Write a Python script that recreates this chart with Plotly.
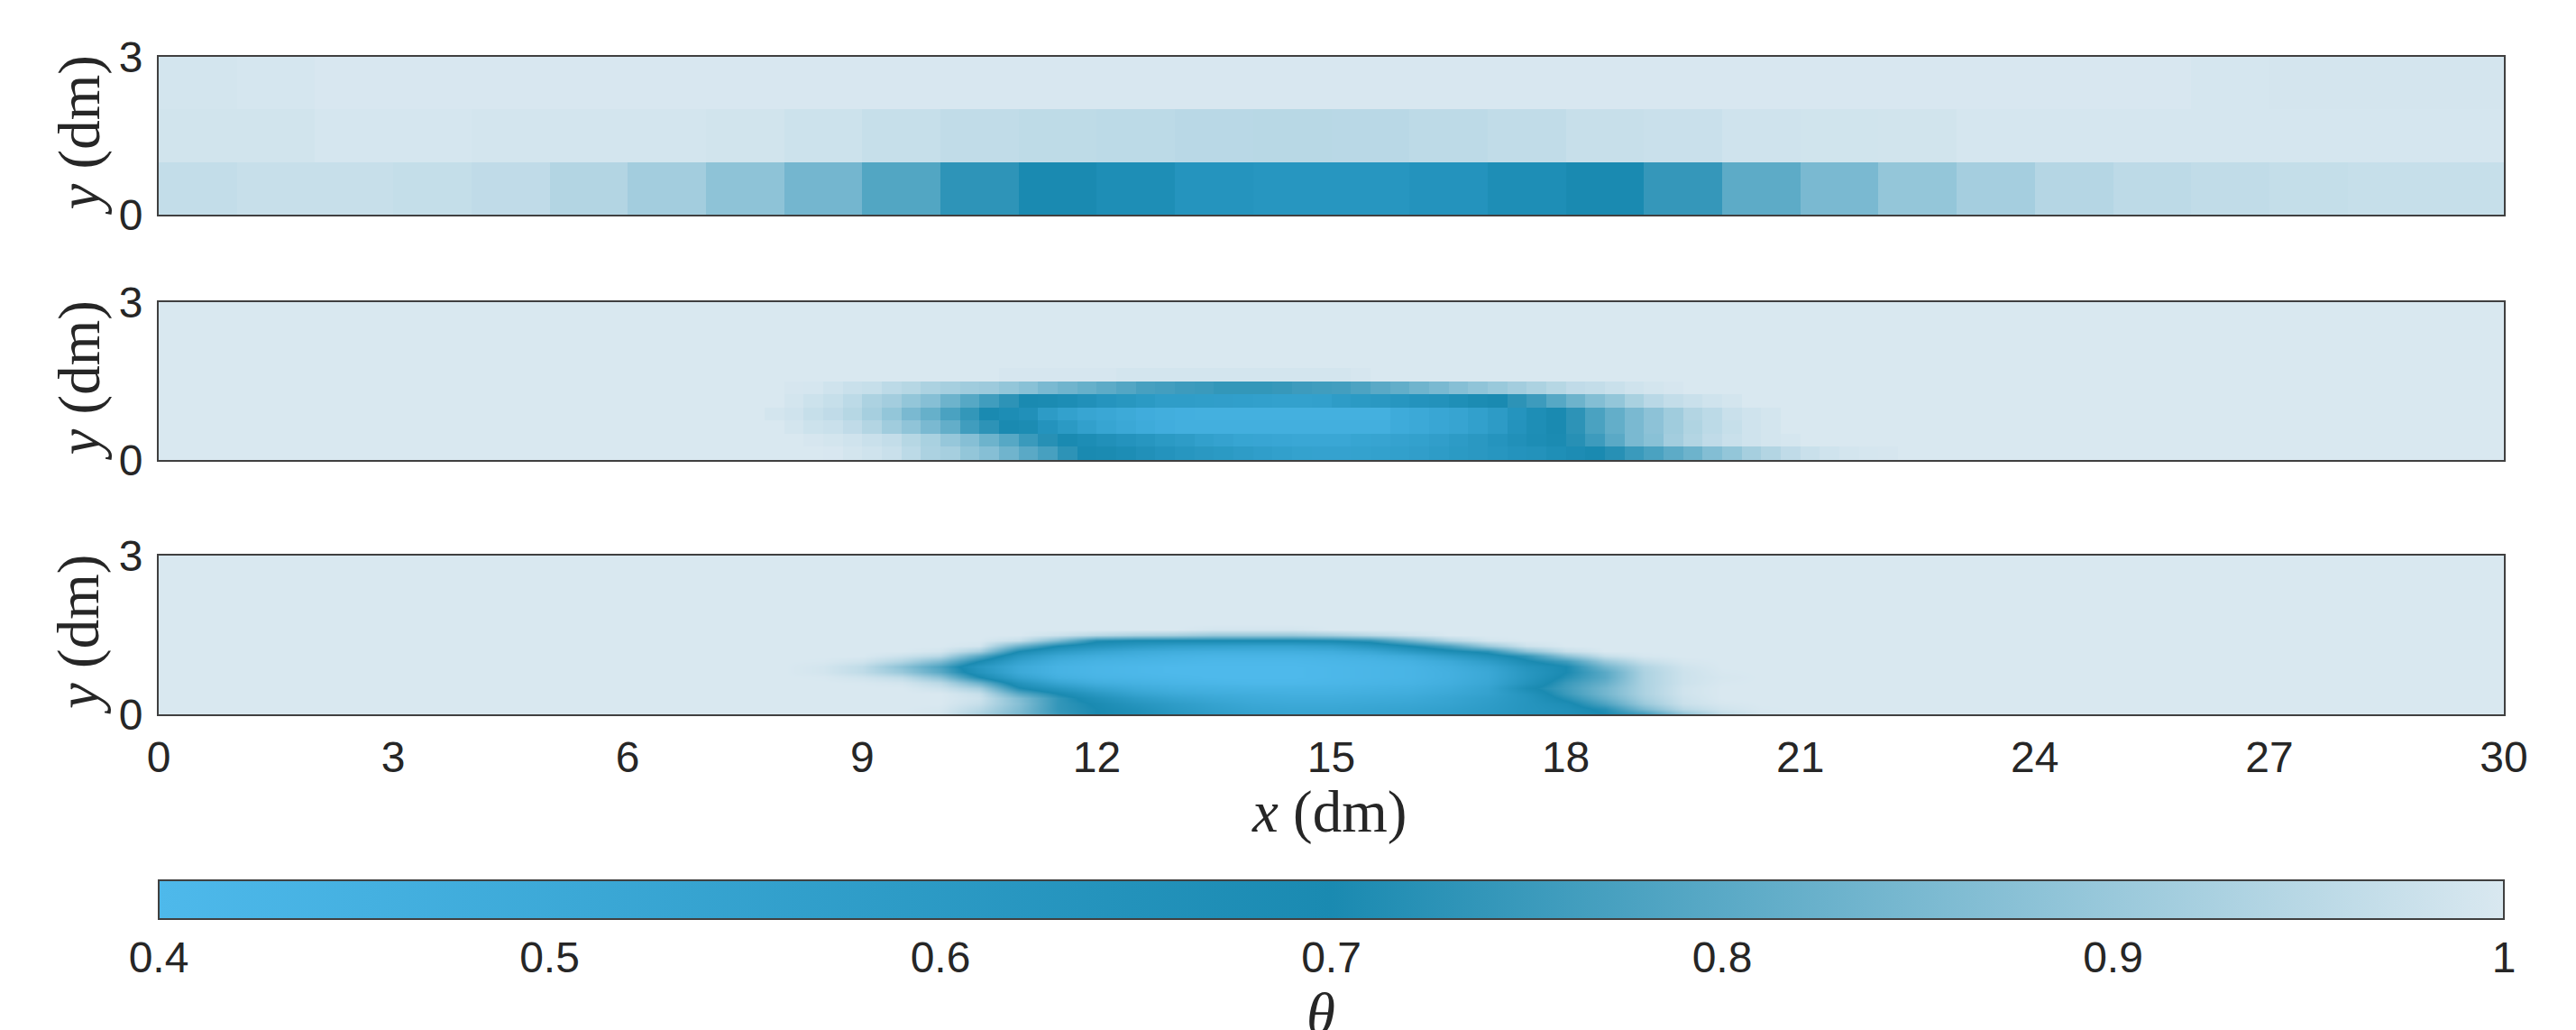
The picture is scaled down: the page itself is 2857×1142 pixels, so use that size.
import numpy as np
import plotly.graph_objects as go

# ---------- colour map ----------
cmap_stops = [0.0, 0.5, 1.0]
cmap_colors = ["#4EB9EB", "#1A8AB1", "#D9E8F0"]
theta_min, theta_max = 0.4, 1.0
theta_ticks = [0.4, 0.5, 0.6, 0.7, 0.8, 0.9, 1.0]
theta_labels = ["0.4", "0.5", "0.6", "0.7", "0.8", "0.9", "1"]
x_ticks = [0, 3, 6, 9, 12, 15, 18, 21, 24, 27, 30]
y_ticks = [0, 3]

# ---------- top panel: 30 x 3 cells ----------
top_row_0 = [.965, .972, .972, .967, .96, .94, .915, .882, .841, .788, .731, .70, .675, .635, .625,
             .625, .64, .675, .70, .742, .805, .851, .892, .918, .943, .956, .962, .967, .97, .97]
top_row_1 = [.987, .987, .994, .994, .99, .99, .99, .988, .98, .97, .963, .958, .955, .95, .948,
             .95, .956, .962, .972, .975, .985, .986, .988, .993, .993, .993, .993, .993, .993, .993]
top_row_2 = [.99, .994, .998, .998, .998, .998, .998, .998, .998, .998, .998, .998, .998, .998, .998,
             .998, .998, .998, .998, .998, .998, .998, .998, .998, .998, .998, .994, .992, .992, .992]

# ---------- middle panel: quarter-dm cells, columns 30..89 of 120 ----------
mid_start = 30
mid_row_0 = [1, 1, 1, 1, .998, .99, .985, .975, .955, .93, .92, .89, .87, .835, .80, .77, .73, .70, .695, .68,
             .66, .64, .625, .61, .60, .585, .573, .56, .55, .545, .545, .55, .555, .56, .57, .585, .60, .61, .625, .64,
             .65, .67, .685, .70, .72, .75, .775, .805, .83, .865, .89, .92, .94, .96, .975, .985, .99, .993, .995, 1]
mid_row_1 = [1, 1, 1, .995, .99, .985, .975, .965, .945, .925, .895, .87, .83, .795, .75, .72, .70, .68, .66, .64,
             .625, .60, .585, .56, .545, .53, .525, .52, .515, .515, .515, .53, .535, .545, .555, .57, .59, .61, .635, .66,
             .68, .695, .72, .755, .80, .85, .875, .915, .94, .96, .975, .985, .99, .993, 1, 1, 1, 1, 1, 1]
mid_row_2 = [1, 1, .99, .98, .975, .96, .94, .91, .885, .85, .815, .76, .73, .70, .69, .64, .60, .56, .53, .51,
             .49, .475, .465, .465, .465, .465, .465, .465, .465, .465, .465, .465, .465, .49, .505, .52, .535, .56, .59, .64,
             .675, .70, .73, .775, .815, .85, .88, .91, .935, .955, .97, .985, .99, 1, 1, 1, 1, 1, 1, 1]
mid_row_3 = [1, .99, .985, .97, .96, .945, .92, .89, .85, .82, .775, .74, .70, .68, .66, .59, .556, .527, .515, .498,
             .48, .47, .463, .46, .46, .46, .46, .46, .46, .46, .46, .46, .46, .49, .505, .52, .535, .56, .59, .635,
             .675, .70, .73, .775, .815, .85, .88, .91, .94, .955, .975, .985, .99, 1, 1, 1, 1, 1, 1, 1]
mid_row_4 = [1, 1, .99, .98, .97, .955, .93, .915, .89, .87, .83, .795, .76, .73, .70, .695, .68, .66, .635, .62,
             .60, .58, .58, .575, .57, .565, .56, .555, .555, .56, .585, .60, .61, .625, .64, .65, .67, .69, .70, .73,
             .755, .795, .83, .865, .89, .925, .95, .965, .975, .985, .99, 1, 1, 1, 1, 1, 1, 1, 1, 1]
mid_row_5 = [1, 1, .995, .993, .985, .975, .97, .955, .945, .93, .92, .91, .905, .89, .875, .85, .835, .82, .805, .79,
             .77, .765, .755, .75, .74, .74, .74, .745, .755, .76, .765, .78, .80, .815, .835, .85, .87, .885, .90, .915,
             .93, .945, .96, .965, .975, .985, .99, .995, 1, 1, 1, 1, 1, 1, 1, 1, 1, 1, 1, 1]
mid_row_6 = [1, 1, 1, 1, 1, 1, 1, 1, 1, 1, 1, 1, 1, .995, .995, .995, .995, .995, .995, .99,
             .99, .99, .99, .99, .99, .99, .99, .99, .99, .99, .99, .995, 1, 1, 1, 1, 1, 1, 1, 1,
             1, 1, 1, 1, 1, 1, 1, 1, 1, 1, 1, 1, 1, 1, 1, 1, 1, 1, 1, 1]

# ---------- bottom panel: profile at each x station, y = 0, 0.1 ... 1.6 ----------
bot_y = [0, .1, .2, .3, .4, .5, .6, .7, .8, .9, 1.0, 1.1, 1.2, 1.3, 1.4, 1.5, 1.6, 1.7, 3.0]
bot_x = [0, 8, 8.5, 9, 9.5, 10, 10.5, 11, 11.5, 12, 12.5, 13, 13.5, 14, 14.5, 15, 15.5, 16, 16.5, 17, 17.5,
         18, 18.5, 19, 19.5, 20, 20.5, 21, 30]
bot_x08_5 = [1, 1, 1, 1, 1, 1, 1, .998, .99, .99, .998, 1, 1, 1, 1, 1, 1]
bot_x09_0 = [1, 1, 1, 1, 1, 1, .998, .985, .96, .96, .985, 1, 1, 1, 1, 1, 1]
bot_x09_5 = [1, 1, 1, 1, 1, 1, .99, .96, .90, .88, .94, .98, 1, 1, 1, 1, 1]
bot_x10_0 = [.99, .995, 1, 1, 1, .98, .95, .88, .80, .78, .86, .95, .99, 1, 1, 1, 1]
bot_x10_5 = [.93, .95, .97, .98, .97, .92, .83, .71, .64, .62, .70, .80, .92, .99, 1, 1, 1]
bot_x11_0 = [.85, .86, .87, .86, .80, .71, .64, .55, .50, .50, .55, .62, .70, .83, .97, 1, 1]
bot_x11_5 = [.75, .74, .74, .74, .70, .62, .53, .46, .44, .44, .47, .52, .60, .70, .86, .98, 1]
bot_x12_0 = [.70, .70, .69, .66, .61, .54, .47, .43, .42, .42, .44, .48, .54, .64, .72, .95, 1]
bot_x12_5 = [.67, .66, .63, .59, .54, .49, .45, .42, .41, .41, .43, .46, .50, .60, .70, .93, 1]
bot_x13_0 = [.62, .60, .58, .54, .50, .46, .43, .41, .40, .40, .42, .44, .48, .57, .70, .92, 1]
bot_x13_5 = [.58, .56, .54, .51, .48, .45, .42, .40, .40, .40, .41, .43, .47, .56, .70, .90, .99]
bot_x14_0 = [.55, .53, .51, .49, .47, .44, .41, .40, .40, .40, .41, .43, .47, .55, .70, .90, .99]
bot_x14_5 = [.53, .52, .50, .48, .46, .44, .41, .40, .40, .40, .41, .43, .47, .55, .70, .90, .99]
bot_x15_0 = [.54, .52, .50, .48, .46, .44, .42, .41, .41, .41, .42, .44, .48, .57, .71, .92, 1]
bot_x15_5 = [.54, .53, .51, .49, .47, .45, .43, .42, .42, .42, .43, .46, .52, .63, .74, .95, 1]
bot_x16_0 = [.55, .54, .52, .50, .48, .46, .44, .43, .43, .43, .45, .50, .60, .70, .84, .98, 1]
bot_x16_5 = [.57, .56, .54, .53, .51, .49, .47, .46, .46, .47, .50, .58, .68, .78, .94, 1, 1]
bot_x17_0 = [.60, .59, .58, .57, .55, .54, .52, .51, .51, .53, .58, .66, .73, .90, .99, 1, 1]
bot_x17_5 = [.64, .63, .63, .63, .64, .68, .64, .62, .62, .64, .69, .74, .88, .98, 1, 1, 1]
bot_x18_0 = [.66, .66, .68, .72, .75, .76, .75, .72, .70, .70, .76, .88, .97, 1, 1, 1, 1]
bot_x18_5 = [.70, .72, .78, .82, .84, .84, .82, .80, .80, .84, .90, .97, 1, 1, 1, 1, 1]
bot_x19_0 = [.75, .85, .90, .92, .93, .93, .93, .93, .93, .94, .97, .995, 1, 1, 1, 1, 1]
bot_x19_5 = [.88, .95, .975, .98, .985, .985, .98, .98, .98, .985, .995, 1, 1, 1, 1, 1, 1]
bot_x20_0 = [.96, .985, .995, 1, 1, 1, .998, .995, .998, 1, 1, 1, 1, 1, 1, 1, 1]
bot_x20_5 = [.99, .998, 1, 1, 1, 1, 1, 1, 1, 1, 1, 1, 1, 1, 1, 1, 1]

# ---------- build grids ----------
top_z = np.array([top_row_0, top_row_1, top_row_2])
top_x = np.arange(30) + 0.5
top_y = np.array([0.5, 1.5, 2.5])

mid_x = np.arange(120) * 0.25 + 0.125
mid_y = np.arange(12) * 0.25 + 0.125
mid_z = np.ones((12, 120))
for i, r in enumerate([mid_row_0, mid_row_1, mid_row_2, mid_row_3, mid_row_4, mid_row_5, mid_row_6]):
    mid_z[i, mid_start:mid_start + len(r)] = r

stations = [bot_x08_5, bot_x09_0, bot_x09_5, bot_x10_0, bot_x10_5, bot_x11_0, bot_x11_5, bot_x12_0, bot_x12_5,
            bot_x13_0, bot_x13_5, bot_x14_0, bot_x14_5, bot_x15_0, bot_x15_5, bot_x16_0, bot_x16_5, bot_x17_0,
            bot_x17_5, bot_x18_0, bot_x18_5, bot_x19_0, bot_x19_5, bot_x20_0, bot_x20_5]
bot_z = np.ones((len(bot_y), len(bot_x)))
for j, col in enumerate(stations):
    bot_z[:len(col), j + 2] = col

# ---------- layout geometry (the page places the figure 8 px in from its corner) ----------
W, H = 2857, 1142
PAGE = 8
L, R = 176 - PAGE, 2777 - PAGE
panels = [(63 - PAGE, 238 - PAGE), (335 - PAGE, 510 - PAGE), (616 - PAGE, 792 - PAGE)]
TICK = dict(family="Liberation Sans, Arial, sans-serif", size=48, color="#262626")
SERIF = dict(family="Liberation Serif, Times New Roman, serif", size=65, color="#262626")
AX = dict(showline=True, mirror=True, linecolor="#404040", linewidth=2, ticks="", showgrid=False, zeroline=False)

fig = go.Figure()
fig.add_trace(go.Heatmap(x=top_x, y=top_y, z=top_z, coloraxis="coloraxis", xaxis="x", yaxis="y"))
fig.add_trace(go.Heatmap(x=mid_x, y=mid_y, z=mid_z, coloraxis="coloraxis", xaxis="x2", yaxis="y2"))
fig.add_trace(go.Heatmap(x=bot_x, y=bot_y, z=bot_z, zsmooth="best", coloraxis="coloraxis", xaxis="x3", yaxis="y3"))

layout = dict(
    width=W, height=H, margin=dict(l=0, r=0, t=0, b=0, autoexpand=False), paper_bgcolor="white", plot_bgcolor="white",
    showlegend=False,
    coloraxis=dict(
        cmin=theta_min, cmax=theta_max,
        colorscale=[[s, c] for s, c in zip(cmap_stops, cmap_colors)],
        colorbar=dict(
            orientation="h", x=L / W, xanchor="left", y=1 - (976 - PAGE) / H, yanchor="top", xpad=0, ypad=0,
            lenmode="pixels", len=R - L, thicknessmode="pixels", thickness=43,
            tickvals=theta_ticks, ticktext=theta_labels, tickfont=TICK, ticks="", ticklabelposition="outside bottom",
            outlinecolor="#404040", outlinewidth=2,
        ),
    ),
    annotations=[],
)
for i, (t, b) in enumerate(panels):
    n = "" if i == 0 else str(i + 1)
    layout["xaxis" + n] = dict(AX, domain=[L / W, R / W], range=[0, 30], anchor="y" + n, tickvals=x_ticks,
                               showticklabels=i == 2, tickfont=TICK, ticklabelstandoff=4)
    layout["yaxis" + n] = dict(AX, domain=[1 - b / H, 1 - t / H], range=[0, 3], anchor="x" + n, tickvals=y_ticks,
                               tickfont=TICK, ticklabelstandoff=6)
    layout["annotations"].append(dict(text="<i>y</i> (dm)", textangle=-90, font=SERIF, xref="paper", yref="paper",
                                      x=(87 - PAGE) / W, y=1 - (t + b) / 2 / H, showarrow=False, xanchor="center", yanchor="middle"))
layout["annotations"].append(dict(text="<i>x</i> (dm)", font=SERIF, xref="paper", yref="paper", x=(1474 - PAGE) / W, y=1 - (900 - PAGE) / H,
                                  showarrow=False, xanchor="center", yanchor="middle"))
layout["annotations"].append(dict(text="<i>θ</i>", font=SERIF, xref="paper", yref="paper", x=(1465 - PAGE) / W, y=1 - (1124 - PAGE) / H,
                                  showarrow=False, xanchor="center", yanchor="middle"))
fig.update_layout(**layout)
fig.write_html("out.html")
